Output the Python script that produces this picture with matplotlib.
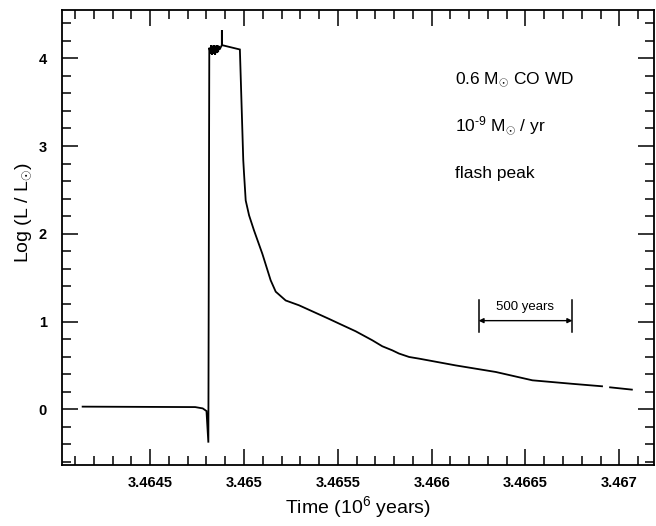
import matplotlib
matplotlib.use("Agg")
import matplotlib.pyplot as plt
from matplotlib.ticker import MultipleLocator, FixedLocator, FixedFormatter
import numpy as np

plt.rcParams['font.family'] = ['Liberation Sans', 'DejaVu Sans']
plt.rcParams['mathtext.fontset'] = 'custom'
plt.rcParams['mathtext.rm'] = 'Liberation Sans'
plt.rcParams['mathtext.it'] = 'Liberation Sans:italic'

# Light curve of the flash: time (10^6 yr) and log luminosity
time = [
    3.46414, 3.46474, 3.46478, 3.46480, 3.46481, 3.464815,
    3.464822, 3.464826, 3.46483, 3.464834, 3.464838, 3.464842, 3.464846,
    3.46485, 3.464854, 3.464858, 3.464862, 3.464866, 3.46487,
    3.464882, 3.464882, 3.464882,
    3.464978, 3.464996, 3.465000, 3.465009, 3.465027, 3.465053, 3.465098,
    3.465142, 3.465169, 3.465222, 3.465293, 3.465453, 3.465506, 3.465595,
    3.465684, 3.465737, 3.465790, 3.465826, 3.465880, 3.465933, 3.466128,
    3.466342, 3.466537, 3.466750, 3.466908, np.nan, 3.466951, 3.467067,
]
log_lum = [
    0.03, 0.025, 0.01, -0.02, -0.38, 4.12,
    4.05, 4.15, 4.04, 4.14, 4.05, 4.15, 4.04,
    4.14, 4.06, 4.15, 4.07, 4.14, 4.10,
    4.15, 4.32, 4.15,
    4.10, 2.84, 2.69, 2.38, 2.21, 2.04, 1.77,
    1.47, 1.34, 1.24, 1.185, 1.03, 0.977, 0.889,
    0.786, 0.718, 0.672, 0.635, 0.596, 0.577, 0.50,
    0.425, 0.33, 0.29, 0.262, np.nan, 0.25, 0.224,
]

# Scale bar marking 500 years
bar_start = 3.46625
bar_end = 3.46675
bar_level = 1.01
bar_low, bar_high = 0.88, 1.25

x_ticks = [3.4645, 3.465, 3.4655, 3.466, 3.4665, 3.467]
x_tick_labels = ['3.4645', '3.465', '3.4655', '3.466', '3.4665', '3.467']
y_ticks = [0, 1, 2, 3, 4]
y_tick_labels = ['0', '1', '2', '3', '4']

notes = [r'0.6 M$_{\odot}$ CO WD', r'10$^{‐9}$ M$_{\odot}$ / yr', 'flash peak']

fig = plt.figure(figsize=(6.56, 5.26), dpi=100)
ax = fig.add_axes([62/656, (526-465)/526, (654-62)/656, (465-10)/526])

ax.plot(time, log_lum, color='black', lw=1.3, solid_joinstyle='miter')

ax.set_xlim(3.46403, 3.467185)
ax.set_ylim(-0.635, 4.55)

ax.xaxis.set_major_locator(FixedLocator(x_ticks))
ax.xaxis.set_major_formatter(FixedFormatter(x_tick_labels))
ax.xaxis.set_minor_locator(MultipleLocator(0.0001))
ax.yaxis.set_major_locator(FixedLocator(y_ticks))
ax.yaxis.set_major_formatter(FixedFormatter(y_tick_labels))
ax.yaxis.set_minor_locator(MultipleLocator(0.2))

ax.tick_params(which='both', direction='in', top=True, right=True, width=1.1)
ax.tick_params(which='major', length=11.5)
ax.tick_params(which='minor', length=6.5)
ax.tick_params(axis='y', which='major', pad=11)
ax.tick_params(axis='x', which='major', pad=8)
for lab in ax.get_xticklabels() + ax.get_yticklabels():
    lab.set_fontsize(10.5)
    lab.set_fontweight('bold')
for s in ax.spines.values():
    s.set_linewidth(1.3)

ax.set_xlabel(r'Time (10$^6$ years)', fontsize=14, labelpad=3)
ax.set_ylabel(r'Log (L / L$_{\odot}$)', fontsize=14)
ax.yaxis.set_label_coords(-0.047, 0.554)

for txt, yy in zip(notes, [0.839, 0.733, 0.631]):
    ax.text(0.664, yy, txt, transform=ax.transAxes, fontsize=12.5,
            ha='left', va='baseline')

# 500-year scale bar
ax.plot([bar_start, bar_start], [bar_low, bar_high], color='black', lw=1.1)
ax.plot([bar_end, bar_end], [bar_low, bar_high], color='black', lw=1.1)
ax.annotate('', xy=(bar_end, bar_level), xytext=(bar_start, bar_level),
            arrowprops=dict(arrowstyle='<|-|>', color='black', lw=1.0,
                            mutation_scale=7, shrinkA=0, shrinkB=0))
ax.text((bar_start + bar_end) / 2, 1.13, '500 years', fontsize=9.5,
        ha='center', va='baseline')

fig.savefig('out.png', dpi=100)
